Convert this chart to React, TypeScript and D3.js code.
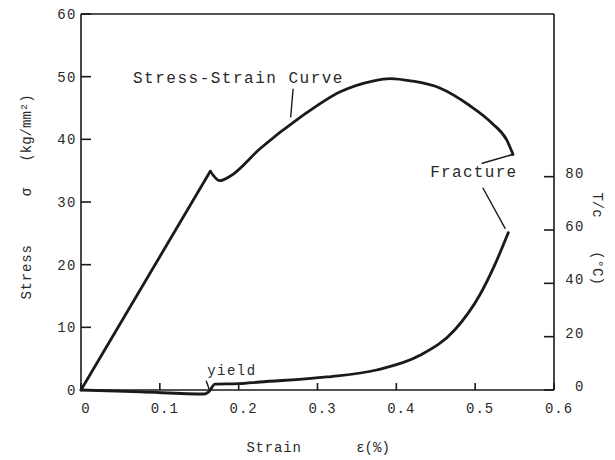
import React from 'react';
import * as d3 from 'd3';

// stress-strain curve (left axis, kg/mm^2)
const stressStrain = [0, 0.164, 0.176, 0.189, 0.227, 0.278, 0.329, 0.37, 0.392, 0.42, 0.455, 0.493, 0.522, 0.54, 0.548];
const stressVals = [0, 34.9, 33.4, 34.1, 38.5, 43.5, 47.6, 49.3, 49.7, 49.3, 48.2, 45.4, 42.5, 39.9, 37.6];

// temperature rise curve (right axis, deg C)
const tempStrain = [0, 0.075, 0.157, 0.162, 0.17, 0.2, 0.227, 0.312, 0.375, 0.43, 0.474, 0.506, 0.525, 0.542];
const tempVals = [0, -0.7, -1.5, -0.7, 2.2, 2.4, 3, 4.9, 7.5, 13, 22.5, 35.7, 47, 59];

const xTicks = [0, 0.1, 0.2, 0.3, 0.4, 0.5, 0.6];
const xTickLabels = ['0', '0.1', '0.2', '0.3', '0.4', '0.5', '0.6'];
const stressTicks = [0, 10, 20, 30, 40, 50, 60];
const tempTicks = [0, 20, 40, 60, 80];

// leader lines, in (strain, stress) units
const fractureTop = [[0.548, 37.6], [0.509, 36.2]];
const fractureLow = [[0.51, 32.2], [0.538, 25.8]];
const yieldMark = [[0.159, 1.4], [0.163, 0]];
const curveMark = [[0.269, 48.0], [0.266, 43.6]];

const W = 615;
const H = 460;
const left = 81, right = 554, top = 14, bottom = 390;
const font = '"Liberation Mono", "DejaVu Sans Mono", monospace';
const ink = '#1a1a1a';
const textInk = '#2a2a2a';

export default function App() {
  const x = d3.scaleLinear().domain([0, 0.6]).range([left, right]);
  const y = d3.scaleLinear().domain([0, 60]).range([bottom, top]);
  // right axis: 80 deg sits at about stress 34.2
  const yT = d3.scaleLinear().domain([0, 141]).range([bottom, top]);

  const lin = d3.line<number[]>().x(d => x(d[0])).y(d => y(d[1]));
  const smooth = d3.line<number[]>().x(d => x(d[0])).y(d => y(d[1])).curve(d3.curveMonotoneX);
  const smoothT = d3.line<number[]>().x(d => x(d[0])).y(d => yT(d[1])).curve(d3.curveMonotoneX);

  const sPts = stressStrain.map((s, i) => [s, stressVals[i]]);
  const tPts = tempStrain.map((s, i) => [s, tempVals[i]]);

  return (
    <svg width={W} height={H} style={{ position: 'absolute', left: 0, top: 0, background: '#fff' }}>
      <g stroke={ink} strokeWidth={1.6} fill="none">
        <line x1={left} y1={top} x2={right} y2={top} />
        <line x1={left} y1={top} x2={left} y2={bottom} />
        <line x1={right} y1={top} x2={right} y2={bottom} />
        <line x1={left} y1={bottom} x2={right} y2={bottom} />
        {stressTicks.map(t => (
          <line key={'l' + t} x1={left} x2={left + 10} y1={y(t)} y2={y(t)} />
        ))}
        {xTicks.map(t => (
          <line key={'b' + t} x1={x(t)} x2={x(t)} y1={bottom} y2={bottom - 7} />
        ))}
        {tempTicks.map(t => (
          <line key={'r' + t} x1={right} x2={right - 10} y1={yT(t)} y2={yT(t)} />
        ))}
      </g>

      <g fill={textInk} fontFamily={font} fontSize={14}>
        {stressTicks.map(t => (
          <text key={'lt' + t} x={left - 4} y={y(t)} dy="0.35em" textAnchor="end" letterSpacing={1.5}>{t}</text>
        ))}
        {xTicks.map((t, i) => (
          <text key={'bt' + t} x={x(t) + 5} y={bottom + 23} textAnchor="middle" letterSpacing={1}>{xTickLabels[i]}</text>
        ))}
        {tempTicks.map(t => (
          <text key={'rt' + t} x={right + 31} y={yT(t) - 4} dy="0.35em" textAnchor="end" letterSpacing={1.5}>{t}</text>
        ))}
      </g>

      <g stroke={ink} fill="none" strokeLinejoin="round" strokeLinecap="round">
        <path d={lin(sPts.slice(0, 2)) || ''} strokeWidth={2.8} />
        <path d={smooth(sPts.slice(1)) || ''} strokeWidth={2.8} />
        <path d={smoothT(tPts) || ''} strokeWidth={2.8} />
        <path d={lin(fractureTop) || ''} strokeWidth={1.6} />
        <path d={lin(fractureLow) || ''} strokeWidth={1.4} />
        <path d={lin(yieldMark) || ''} strokeWidth={1.4} />
        <path d={lin(curveMark) || ''} strokeWidth={1.4} />
      </g>

      <g fill={textInk} fontFamily={font}>
        <text x={x(0.066)} y={y(49.0)} fontSize={16} letterSpacing={1.5}>Stress-Strain Curve</text>
        <text x={x(0.443)} y={y(34.0)} fontSize={16} letterSpacing={1.3}>Fracture</text>
        <text x={x(0.160)} y={y(2.4)} fontSize={14} letterSpacing={1.5}>yield</text>
        <text x={274} y={452} fontSize={14} textAnchor="middle" letterSpacing={0.8}>Strain</text>
        <text x={373} y={452} fontSize={14} textAnchor="middle">ε(%)</text>
        <g transform="translate(31,200) rotate(-90)" fontSize={14}>
          <text x={-72} y={0} textAnchor="middle" letterSpacing={0.8}>Stress</text>
          <text x={8} y={0} textAnchor="middle">σ</text>
          <text x={72} y={0} textAnchor="middle">(kg/mm²)</text>
        </g>
        <g transform="translate(593,236) rotate(90)" fontSize={14}>
          <text x={-31} y={0} textAnchor="middle">T/c</text>
          <text x={32} y={0} textAnchor="middle">(°C)</text>
        </g>
      </g>
    </svg>
  );
}
